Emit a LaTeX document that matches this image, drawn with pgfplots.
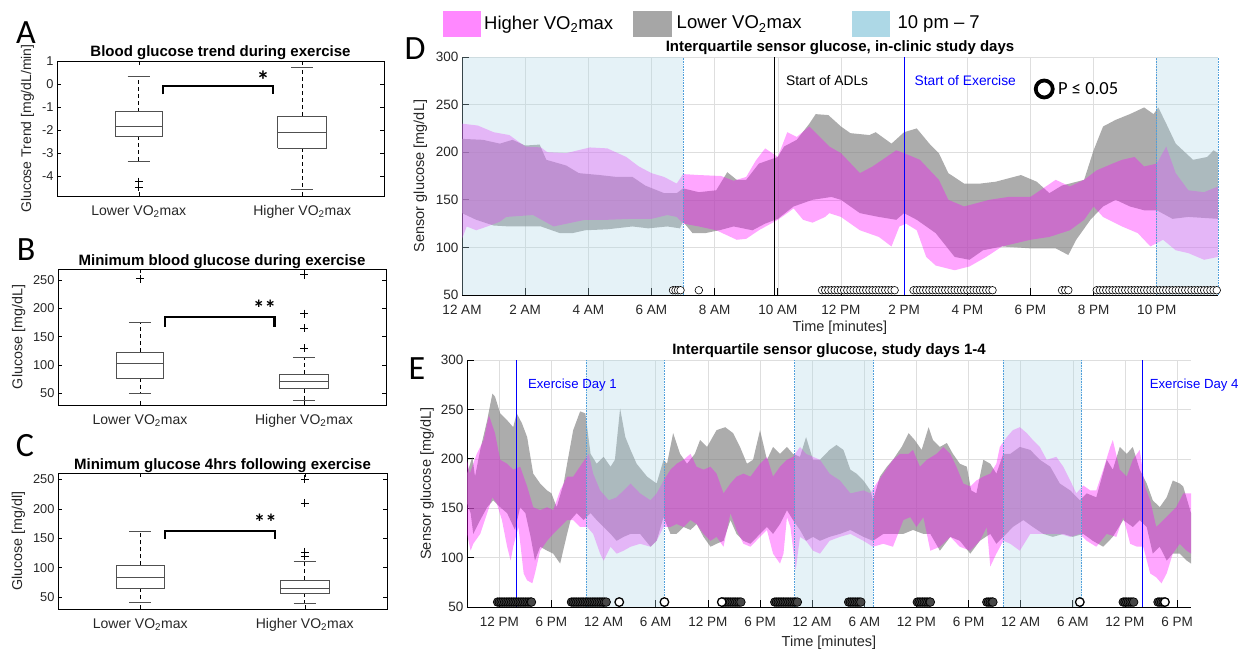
\documentclass[border=0pt]{standalone}
\usepackage{fontspec}
\setmainfont{Liberation Sans}
\newfontfamily\calfont{Carlito}
\usepackage{pgfplots}
\usepackage{pgfplotstable}
\pgfplotsset{compat=1.18}

\definecolor{bandpink}{RGB}{255,0,255}
\definecolor{bandgrey}{RGB}{128,128,128}
\definecolor{shadeblue}{RGB}{173,216,230}
\definecolor{dotblue}{RGB}{80,160,220}
\definecolor{legpink}{RGB}{255,136,255}
\definecolor{leggrey}{RGB}{166,166,166}
\definecolor{boxc}{RGB}{80,80,80}
\definecolor{tickc}{RGB}{38,38,38}
\definecolor{gridc}{RGB}{222,222,222}

% Panel D interquartile bands: upper edge left->right, then lower edge right->left
\pgfplotstableread{
x y
0 214
0.66 213
1.2 209
1.6 213
2.0 207
2.46 208
2.67 192
3.3 186
3.7 178
4.36 176
4.9 174
5.4 174
5.8 165
6.4 157
6.8 157
7.0 162
7.5 158
8.05 160
8.4 179
8.7 171
9.0 171
9.4 188
10.0 195
10.2 206
10.6 213
11.0 230
11.2 240
11.6 239
12.0 227
12.3 220
12.9 218
13.1 221
13.6 209
14.0 221
14.4 225
14.8 209
15.1 199
15.4 178
15.9 167
16.4 167
16.9 169
17.7 176
18.2 169
18.6 157
19.0 165
19.7 171
20.0 202
20.3 227
20.7 234
21.15 240
21.6 247
21.9 240
22.05 247
22.3 230
22.6 209
23.15 192
23.6 195
23.8 202
23.94 199
23.94 130
23.0 132
22.5 130
22.0 139
21.6 139
21.15 143
20.7 150
20.3 143
19.9 129
19.45 108
19.2 92
18.8 99
18.0 99
17.1 101
16.5 97
16.07 87
15.6 90
15.0 115
14.4 129
14.0 136
13.75 129
13.2 132
12.6 136
12.0 150
11.7 153
11.1 150
10.5 143
10.0 130
9.6 125
9.2 118
8.6 122
8.15 118
7.7 115
7.3 115
7.0 127
6.9 120
6.5 122
5.9 120
5.4 122
4.6 119
3.9 118
3.5 115
3.1 115
2.5 122
1.5 122
1.0 123
0.45 129
0 136
}\Dgrey
\pgfplotstableread{
x y
0 230
0.5 228
1.0 221
1.5 218
2.0 206
2.5 205
2.7 200
3.3 199
4.05 205
4.6 204
5.2 195
5.6 185
6.0 178
6.4 174
6.8 167
7.0 177
7.5 176
8.2 175
8.6 170
9.0 174
9.3 191
9.6 204
10.0 195
10.3 221
10.6 216
11.0 227
11.63 206
12.0 199
12.6 178
13.0 185
13.75 202
14.0 199
14.5 192
15.1 171
15.4 150
15.9 143
16.7 150
17.3 153
18.0 153
18.8 171
19.25 164
19.7 171
20.1 181
20.6 188
20.9 192
21.3 195
21.6 185
22.0 188
22.3 206
22.6 178
23.0 160
23.5 158
23.94 164
23.94 90
23.5 87
23.0 94
22.6 97
22.2 108
21.8 101
21.4 115
20.9 122
20.3 132
20.0 143
19.7 129
19.25 118
18.6 111
18.0 108
17.1 101
16.6 90
16.07 80
15.6 76
15.0 81
14.7 90
14.4 118
14.06 125
13.85 122
13.6 101
13.2 111
12.6 118
12.0 132
11.63 136
11.5 132
11.1 126
10.8 129
10.5 141
10.3 136
10.0 129
9.4 118
9.0 109
8.7 108
8.05 118
7.5 122
7.0 125
6.8 132
6.5 134
6.0 130
5.4 130
4.6 129
3.9 129
2.9 122
2.25 134
1.4 132
1.2 127
0.8 122
0.45 118
0.15 122
0 109
}\Dpink

% Panel E interquartile bands (x in hours from midnight before day 1)
\pgfplotstableread{
x y
8.28 185
8.9 202
9.2 182
9.8 209
10.6 239
11.2 266
11.5 263
12.1 246
12.9 239
13.6 232
14.0 246
14.6 236
15.2 222
15.9 185
16.7 175
17.5 168
18.0 165
18.6 151
19.4 175
19.8 195
20.5 229
21.3 248
21.9 246
22.5 205
23.2 195
24.0 202
24.8 192
25.3 199
25.9 251
26.5 222
27.1 209
27.8 195
29.0 182
30.1 175
30.9 199
31.3 195
32.0 226
32.8 205
33.6 195
34.5 205
35.1 219
35.9 212
37.0 229
38.0 232
38.9 226
39.7 212
40.5 195
41.2 199
42.0 229
42.8 199
43.5 212
44.3 205
45.1 212
45.8 205
46.6 202
47.3 222
48.1 199
48.9 199
50.0 209
50.8 214
51.6 209
52.4 189
53.1 185
53.9 178
54.7 168
55.0 158
55.8 182
56.6 192
57.3 199
58.3 212
59.1 226
59.8 219
60.6 209
61.4 232
61.9 219
62.7 212
63.5 216
64.2 205
65.0 195
65.8 192
66.3 168
66.9 165
67.7 199
68.5 195
69.2 185
70.0 205
70.8 205
71.9 212
73.1 209
74.2 199
75.4 192
76.5 175
77.7 168
78.8 158
79.6 165
80.7 161
81.9 199
82.6 189
83.4 212
84.2 205
84.9 212
85.7 189
86.5 175
87.2 158
88.0 151
88.8 161
89.5 178
90.3 175
90.7 172
91.6 145
91.6 94
91.1 97
90.3 104
89.5 104
88.8 97
88.0 111
87.2 104
86.5 131
85.7 138
84.9 131
83.8 138
82.6 121
81.5 111
80.3 117
79.2 124
78.0 121
76.9 124
75.7 121
74.6 124
73.4 131
72.3 138
71.1 131
70.0 121
69.2 114
68.5 124
67.3 117
66.2 104
65.0 117
63.9 121
62.7 107
61.6 124
60.8 124
59.6 128
58.5 124
57.3 124
56.2 124
55.0 117
53.9 121
52.4 128
51.2 124
50.0 121
48.9 117
48.1 121
47.3 117
46.6 128
45.8 138
45.1 148
44.3 134
43.5 124
42.8 131
42.0 124
40.9 114
40.1 117
39.3 124
38.6 138
37.8 117
37.0 114
36.3 111
35.5 121
34.7 134
34.0 128
33.2 131
32.4 124
31.7 124
30.9 141
30.1 117
29.4 111
28.2 124
27.1 124
26.3 121
25.5 117
24.8 124
24.0 131
23.2 138
22.5 145
21.7 138
20.9 145
20.2 138
19.8 124
19.0 94
18.2 104
17.5 107
16.7 111
16.1 97
15.6 121
15.0 145
14.4 151
13.8 128
12.9 145
12.1 151
11.3 158
10.6 151
9.8 138
9.0 124
8.7 145
8.28 155
}\Egrey
\pgfplotstableread{
x y
8.28 199
8.6 185
9.4 205
10.2 219
10.8 244
11.0 239
11.5 226
12.1 199
12.9 195
13.6 189
14.4 192
15.2 172
15.9 151
16.7 148
17.5 151
18.2 148
19.0 168
19.8 182
20.5 182
21.5 195
22.3 205
22.8 185
23.6 168
24.6 158
25.5 161
26.3 168
27.1 175
28.2 165
29.4 158
30.1 165
30.9 178
31.7 189
32.4 195
33.2 199
34.0 205
34.7 192
35.5 189
36.3 192
37.0 185
37.8 165
38.6 175
39.3 182
40.1 185
40.9 182
42.0 195
42.8 202
43.5 182
44.3 192
45.1 199
45.8 202
46.6 212
47.3 205
48.1 202
48.9 199
50.0 185
51.2 178
52.4 165
53.9 168
54.7 165
55.4 175
56.2 185
57.3 199
58.1 205
59.1 205
59.6 209
60.4 192
61.2 199
62.3 205
63.1 212
63.9 205
64.6 192
65.4 175
66.2 172
66.9 178
67.7 182
68.5 185
69.2 195
69.6 212
70.4 222
71.1 229
71.9 232
72.7 226
73.4 219
74.2 212
75.0 199
76.1 202
76.9 192
77.7 178
78.4 165
79.2 173
80.0 168
80.7 168
81.5 189
82.3 212
82.6 219
83.4 189
84.2 182
84.9 199
85.7 209
86.3 172
86.9 158
87.6 131
88.4 138
89.2 145
89.9 151
90.7 165
91.6 165
91.6 104
91.1 107
90.3 114
89.5 104
88.8 84
88.2 74
87.6 80
86.9 84
86.1 111
85.4 111
84.6 114
83.8 141
83.0 121
81.9 124
80.7 111
79.6 117
78.8 124
77.7 121
76.5 124
75.4 124
74.2 124
73.1 124
71.9 107
70.8 114
70.0 117
69.2 104
68.5 91
68.1 131
67.3 117
66.2 107
65.0 111
63.9 121
62.7 111
61.6 107
60.8 141
60.0 131
59.3 141
58.5 138
57.3 111
56.2 114
55.0 111
53.9 117
52.4 124
51.2 121
50.0 117
48.9 104
48.1 107
47.3 117
46.6 121
46.1 87
45.5 131
45.1 141
44.7 104
44.3 94
43.5 104
42.8 128
42.0 121
40.9 111
40.1 114
39.3 128
38.6 145
37.8 111
37.0 121
36.3 117
35.5 124
34.7 134
34.0 138
33.2 131
32.4 134
31.7 131
30.9 131
30.1 117
29.4 111
28.2 114
27.1 111
26.3 107
25.5 104
24.8 111
24.0 97
23.6 104
22.8 124
22.1 131
21.3 131
20.5 138
19.8 138
19.0 131
18.2 124
17.5 117
16.7 107
16.1 84
15.8 74
15.2 77
14.8 84
14.2 131
13.6 111
13.3 97
12.9 111
12.3 138
11.7 155
11.2 161
10.6 145
9.8 124
9.0 114
8.7 107
8.28 124
}\Epink

\pgfplotsset{
  /pgf/number format/assume math mode=true,
  boxax/.style={
    scale only axis, anchor=south west,
    xmin=0.5, xmax=2.5, xtick={1,2},
    xticklabels={Lower VO\textsubscript{2}max, Higher VO\textsubscript{2}max},
    tick align=inside, major tick length=4pt, tick style={black, line width=0.5pt},
    yticklabel style={font=\fontsize{12.8}{14}\selectfont, text=tickc},
    xticklabel style={font=\fontsize{14}{15}\selectfont, text=tickc, yshift=-6pt},
    axis line style={black, line width=0.6pt},
    every axis y label/.style={at={(axis description cs:-0.12,0.5)}, rotate=90, anchor=center, font=\fontsize{14.3}{16}\selectfont, text=tickc},
    clip=false,
  },
  boxline/.style={boxc, line width=0.8pt, forget plot},
  medline/.style={boxc, line width=1pt, forget plot},
  whisk/.style={black, line width=0.6pt, dash pattern=on 4pt off 3pt, forget plot},
  outl/.style={only marks, mark=+, mark size=4pt, mark options={black, line width=0.6pt}, forget plot},
  bracket/.style={black, line width=2.2pt, forget plot},
  timeax/.style={
    scale only axis, anchor=south west,
    ymin=50, ymax=300, ytick={50,100,...,300},
    axis lines=left, axis line style={-, black, line width=0.7pt},
    grid=major, grid style={gridc, line width=0.6pt},
    tick align=inside, major tick length=7pt, tick style={black, line width=0.7pt},
    tick label style={font=\fontsize{13.5}{15}\selectfont, text=tickc},
    xticklabel style={yshift=-7pt},
    every axis x label/.style={at={(axis description cs:0.5,-0.139)}, anchor=center, font=\fontsize{14.5}{16}\selectfont, text=tickc},
    every axis y label/.style={at={(axis description cs:-0.055,0.5)}, rotate=90, anchor=center, font=\fontsize{14.5}{16}\selectfont, text=tickc},
    every axis title/.style={at={(0.5,1)}, anchor=south, yshift=-1.6pt, font=\bfseries\fontsize{15}{17}\selectfont},
    clip=false,
  },
  pinkfill/.style={fill=bandpink, fill opacity=0.35, draw=none, forget plot},
  greyfill/.style={fill=bandgrey, fill opacity=0.65, draw=none, forget plot},
  shadefill/.style={fill=shadeblue, fill opacity=0.32, draw=none, forget plot},
  dotline/.style={dotblue, line width=0.6pt, densely dotted, forget plot},
  sigD/.style={only marks, mark=*, mark size=3.8pt, mark options={draw=black, fill=white, line width=0.6pt}, forget plot},
  sigE/.style={only marks, mark=*, mark size=4.3pt, mark options={draw=black, fill=black!72, line width=0.7pt}, forget plot},
  sigEo/.style={only marks, mark=*, mark size=4.3pt, mark options={draw=black, fill=white, line width=1.3pt}, forget plot},
}

\begin{document}
\begin{tikzpicture}
\useasboundingbox (0pt,0pt) rectangle (1238pt,649pt);

% ================= Panel A =================
\begin{axis}[boxax, at={(57pt,453pt)}, width=327pt, height=135pt,
  ymin=-4.87, ymax=1, ytick={-4,-3,-2,-1,0,1},
  title={Blood glucose trend during exercise},
  every axis title/.style={at={(0.5,1)}, anchor=south, yshift=-2.5pt, font=\bfseries\fontsize{15}{17}\selectfont},
  ylabel={Glucose Trend [mg/dL/min]},
  every axis y label/.style={at={(axis description cs:-0.09,0.5)}, rotate=90, anchor=center, font=\fontsize{14}{16}\selectfont, text=tickc}]
\addplot[whisk] coordinates {(1,-1.2) (1,0.35)};
\addplot[whisk] coordinates {(1,-2.27) (1,-3.37)};
\addplot[boxline] coordinates {(0.855,-2.27) (1.145,-2.27) (1.145,-1.2) (0.855,-1.2) (0.855,-2.27)};
\addplot[medline] coordinates {(0.855,-1.85) (1.145,-1.85)};
\addplot[boxline] coordinates {(0.932,0.35) (1.068,0.35)};
\addplot[boxline] coordinates {(0.932,-3.37) (1.068,-3.37)};
\addplot[outl] coordinates {(1,-4.25) (1,-4.5)};
\addplot[whisk] coordinates {(2,-1.4) (2,0.72)};
\addplot[whisk] coordinates {(2,-2.8) (2,-4.6)};
\addplot[boxline] coordinates {(1.85,-2.8) (2.15,-2.8) (2.15,-1.4) (1.85,-1.4) (1.85,-2.8)};
\addplot[medline] coordinates {(1.85,-2.1) (2.15,-2.1)};
\addplot[boxline] coordinates {(1.932,0.72) (2.068,0.72)};
\addplot[boxline] coordinates {(1.932,-4.6) (2.068,-4.6)};
\addplot[bracket] coordinates {(1.15,-0.45) (1.15,-0.07) (1.82,-0.07) (1.82,-0.45)};
\node[anchor=base, font=\calfont\bfseries\fontsize{26}{26}\selectfont] at (axis cs:1.76,-0.25) {*};
\end{axis}

% ================= Panel B =================
\begin{axis}[boxax, at={(58pt,244pt)}, width=328pt, height=136pt,
  ymin=29, ymax=270, ytick={50,100,...,250},
  title={Minimum blood glucose during exercise},
  every axis title/.style={at={(0.5,1)}, anchor=south, yshift=-3.5pt, font=\bfseries\fontsize{15}{17}\selectfont},
  ylabel={Glucose [mg/dL]}]
\addplot[whisk] coordinates {(1,123) (1,175)};
\addplot[whisk] coordinates {(1,77) (1,50)};
\addplot[boxline] coordinates {(0.855,77) (1.145,77) (1.145,123) (0.855,123) (0.855,77)};
\addplot[medline] coordinates {(0.855,102) (1.145,102)};
\addplot[boxline] coordinates {(0.932,175) (1.068,175)};
\addplot[boxline] coordinates {(0.932,50) (1.068,50)};
\addplot[outl] coordinates {(1,253)};
\addplot[whisk] coordinates {(2,84) (2,114)};
\addplot[whisk] coordinates {(2,58) (2,38)};
\addplot[boxline] coordinates {(1.85,58) (2.15,58) (2.15,84) (1.85,84) (1.85,58)};
\addplot[medline] coordinates {(1.85,71) (2.15,71)};
\addplot[boxline] coordinates {(1.932,114) (2.068,114)};
\addplot[boxline] coordinates {(1.932,38) (2.068,38)};
\addplot[outl] coordinates {(2,130) (2,165) (2,191) (2,260)};
\addplot[bracket] coordinates {(1.15,168) (1.15,185) (1.82,185) (1.82,168)};
\node[anchor=base, font=\calfont\bfseries\fontsize{23}{23}\selectfont] at (axis cs:1.76,186) {**};
\end{axis}

% ================= Panel C =================
\begin{axis}[boxax, at={(58pt,40pt)}, width=329pt, height=136pt,
  ymin=30, ymax=260.7, ytick={50,100,...,250},
  title={Minimum glucose 4hrs following exercise},
  every axis title/.style={at={(0.5,1)}, anchor=south, yshift=-3.5pt, font=\bfseries\fontsize{15}{17}\selectfont},
  ylabel={Glucose [mg/dl]}]
\addplot[whisk] coordinates {(1,104) (1,162)};
\addplot[whisk] coordinates {(1,65) (1,41)};
\addplot[boxline] coordinates {(0.855,65) (1.145,65) (1.145,104) (0.855,104) (0.855,65)};
\addplot[medline] coordinates {(0.855,84) (1.145,84)};
\addplot[boxline] coordinates {(0.932,162) (1.068,162)};
\addplot[boxline] coordinates {(0.932,41) (1.068,41)};
\addplot[whisk] coordinates {(2,79) (2,110)};
\addplot[whisk] coordinates {(2,57) (2,40)};
\addplot[boxline] coordinates {(1.85,57) (2.15,57) (2.15,79) (1.85,79) (1.85,57)};
\addplot[medline] coordinates {(1.85,64) (2.15,64)};
\addplot[boxline] coordinates {(1.932,110) (2.068,110)};
\addplot[boxline] coordinates {(1.932,40) (2.068,40)};
\addplot[outl] coordinates {(2,120) (2,127) (2,210) (2,250)};
\addplot[bracket] coordinates {(1.15,149) (1.15,162) (1.82,162) (1.82,149)};
\node[anchor=base, font=\calfont\bfseries\fontsize{23}{23}\selectfont] at (axis cs:1.76,163) {**};
\end{axis}

% ================= Panel D =================
\begin{axis}[timeax, at={(462pt,354pt)}, width=756pt, height=238pt,
  xmin=0, xmax=23.94,
  xtick={0,2,...,22},
  xticklabels={12 AM,2 AM,4 AM,6 AM,8 AM,10 AM,12 PM,2 PM,4 PM,6 PM,8 PM,10 PM},
  title={Interquartile sensor glucose, in-clinic study days},
  xlabel={Time [minutes]}, ylabel={Sensor glucose [mg/dL]},
  legend columns=3,
  legend style={at={(axis description cs:-0.0258,1.142)}, anchor=west, draw=none, fill=none,
    inner sep=0pt, font=\fontsize{18.5}{20}\selectfont,
    nodes={inner sep=0pt},
    /tikz/column 1/.style={column sep=3.6pt},
    /tikz/column 2/.style={column sep=20pt},
    /tikz/column 3/.style={column sep=5.6pt},
    /tikz/column 4/.style={column sep=50pt},
    /tikz/column 5/.style={column sep=8pt}},
]
\addplot[greyfill] table[x=x,y=y] {\Dgrey};
\addplot[pinkfill] table[x=x,y=y] {\Dpink};
\addplot[shadefill] coordinates {(0,50) (7,50) (7,300) (0,300)};
\addplot[shadefill] coordinates {(22,50) (23.94,50) (23.94,300) (22,300)};
\addplot[dotline] coordinates {(7,50) (7,300)};
\addplot[dotline] coordinates {(22,50) (22,300)};
\addplot[dotline] coordinates {(23.94,50) (23.94,300)};
\addplot[black, line width=1pt, forget plot] coordinates {(9.9,50) (9.9,300)};
\addplot[blue, line width=1pt, forget plot] coordinates {(14,50) (14,300)};
\node[anchor=west, text=black, font=\fontsize{13.8}{15}\selectfont] at (axis cs:10.15,275) {Start of ADLs};
\node[anchor=west, text=blue, font=\fontsize{13.8}{15}\selectfont] at (axis cs:14.22,275) {Start of Exercise};
\addplot[sigD] coordinates {(6.68,55) (6.76,55) (6.84,55) (6.92,55) (7.5,55)
 (11.4,55) (11.5,55) (11.6,55) (11.7,55) (11.8,55) (11.9,55) (12.0,55) (12.1,55) (12.2,55) (12.3,55) (12.4,55) (12.5,55)
 (12.6,55) (12.7,55) (12.8,55) (12.9,55) (13.0,55) (13.1,55) (13.2,55) (13.3,55) (13.4,55) (13.5,55) (13.6,55) (13.7,55)
 (14.3,55) (14.4,55) (14.5,55) (14.6,55) (14.7,55) (14.8,55) (14.9,55) (15.0,55) (15.1,55) (15.2,55) (15.3,55) (15.4,55) (15.5,55)
 (15.6,55) (15.7,55) (15.8,55) (15.9,55) (16.0,55) (16.1,55) (16.2,55) (16.3,55) (16.4,55) (16.5,55) (16.6,55) (16.7,55) (16.8,55)
 (19.0,55) (19.1,55) (19.2,55)
 (20.1,55) (20.2,55) (20.3,55) (20.4,55) (20.5,55) (20.6,55) (20.7,55) (20.8,55) (20.9,55) (21.0,55) (21.1,55) (21.2,55) (21.3,55)
 (21.4,55) (21.5,55) (21.6,55) (21.7,55) (21.8,55) (21.9,55) (22.0,55) (22.1,55) (22.2,55) (22.3,55) (22.4,55) (22.5,55) (22.6,55)
 (22.7,55) (22.8,55) (22.9,55) (23.0,55) (23.1,55) (23.2,55) (23.3,55) (23.4,55) (23.5,55) (23.6,55) (23.7,55) (23.8,55) (23.9,55)};
\addlegendimage{legend image code/.code={\fill[legpink] (0pt,-12.5pt) rectangle (37.5pt,12.5pt);}}
\addlegendentry{Higher VO\textsubscript{2}max}
\addlegendimage{legend image code/.code={\fill[leggrey] (0pt,-12.5pt) rectangle (37.5pt,12.5pt);}}
\addlegendentry{Lower VO\textsubscript{2}max}
\addlegendimage{legend image code/.code={\fill[shadeblue] (0pt,-12.5pt) rectangle (37.5pt,12.5pt);}}
\addlegendentry{10 pm – 7}
\end{axis}

% ================= Panel E =================
\begin{axis}[timeax, at={(467pt,42pt)}, width=724pt, height=247pt,
  xmin=8.28, xmax=91.6,
  xtick={12,18,...,90},
  xticklabels={12 PM,6 PM,12 AM,6 AM,12 PM,6 PM,12 AM,6 AM,12 PM,6 PM,12 AM,6 AM,12 PM,6 PM},
  title={Interquartile sensor glucose, study days 1-4},
  xlabel={Time [minutes]}, ylabel={Sensor glucose [mg/dL]},
  every axis x label/.style={at={(axis description cs:0.5,-0.146)}, anchor=center, font=\fontsize{14.5}{16}\selectfont, text=tickc},
]
\addplot[greyfill] table[x=x,y=y] {\Egrey};
\addplot[pinkfill] table[x=x,y=y] {\Epink};
\addplot[shadefill] coordinates {(22,50) (31,50) (31,300) (22,300)};
\addplot[shadefill] coordinates {(46,50) (55,50) (55,300) (46,300)};
\addplot[shadefill] coordinates {(70,50) (79,50) (79,300) (70,300)};
\addplot[dotline] coordinates {(22,50) (22,300)};
\addplot[dotline] coordinates {(31,50) (31,300)};
\addplot[dotline] coordinates {(46,50) (46,300)};
\addplot[dotline] coordinates {(55,50) (55,300)};
\addplot[dotline] coordinates {(70,50) (70,300)};
\addplot[dotline] coordinates {(79,50) (79,300)};
\addplot[blue, line width=1pt, forget plot] coordinates {(14,50) (14,300)};
\addplot[blue, line width=1pt, forget plot] coordinates {(86,50) (86,300)};
\node[anchor=west, text=blue, font=\fontsize{13.2}{15}\selectfont] at (axis cs:14.9,275) {Exercise Day 1};
\node[anchor=west, text=blue, font=\fontsize{13.2}{15}\selectfont] at (axis cs:86.45,275) {Exercise Day 4};
\addplot[sigE] coordinates {
 (11.8,55) (12.0,55) (12.2,55) (12.4,55) (12.6,55) (12.8,55) (13.0,55) (13.2,55) (13.4,55) (13.6,55) (13.8,55) (14.0,55)
 (14.2,55) (14.4,55) (14.6,55) (14.8,55) (15.0,55) (15.2,55) (15.4,55) (15.6,55) (15.7,55)
 (20.3,55) (20.5,55) (20.7,55) (20.9,55) (21.1,55) (21.3,55) (21.5,55) (21.7,55) (21.9,55) (22.1,55) (22.3,55) (22.5,55)
 (22.7,55) (22.9,55) (23.1,55) (23.3,55) (23.5,55) (23.7,55) (23.9,55) (24.1,55) (24.3,55)
 (37.8,55) (38.0,55) (38.2,55) (38.4,55) (38.6,55) (38.8,55) (39.0,55) (39.2,55) (39.4,55) (39.6,55) (39.8,55)
 (43.7,55) (43.9,55) (44.1,55) (44.3,55) (44.5,55) (44.7,55) (44.9,55) (45.1,55) (45.3,55) (45.5,55) (45.7,55) (45.9,55) (46.1,55) (46.3,55)
 (52.2,55) (52.4,55) (52.6,55) (52.8,55) (53.0,55) (53.2,55) (53.4,55) (53.6,55)
 (60.1,55) (60.3,55) (60.5,55) (60.7,55) (60.9,55) (61.1,55) (61.3,55) (61.5,55) (61.6,55)
 (68.1,55) (68.3,55) (68.5,55) (68.7,55) (68.8,55)
 (83.8,55) (84.0,55) (84.2,55) (84.4,55) (84.6,55) (84.8,55) (85.0,55)
 (87.8,55) (88.0,55) (88.2,55) (88.4,55)};
\addplot[sigEo] coordinates {(25.8,55) (31.0,55) (37.6,55) (78.8,55) (88.6,55)};
\end{axis}

% P <= 0.05 key (overlay axis on panel D)
\begin{axis}[at={(462pt,354pt)}, anchor=south west, scale only axis, width=756pt, height=238pt,
  hide axis, xmin=0, xmax=1, ymin=0, ymax=1,
  legend style={at={(axis description cs:0.7546,0.8655)}, anchor=west, draw=none, fill=none,
    font=\calfont\fontsize{18.5}{20}\selectfont}]
\addplot[only marks, mark=o, mark size=8.5pt, line width=3.8pt, black] coordinates {(-5,-5)};
\addlegendentry{\hspace{3.5pt}P ≤ 0.05}
\end{axis}

% panel letters
\node[font=\calfont\fontsize{34}{34}\selectfont] at (26pt,616pt) {A};
\node[font=\calfont\fontsize{34}{34}\selectfont] at (26pt,399pt) {B};
\node[font=\calfont\fontsize{34}{34}\selectfont] at (25pt,203pt) {C};
\node[font=\calfont\fontsize{34}{34}\selectfont] at (415pt,600pt) {D};
\node[font=\calfont\fontsize{34}{34}\selectfont] at (417pt,280pt) {E};
\end{tikzpicture}
\end{document}
